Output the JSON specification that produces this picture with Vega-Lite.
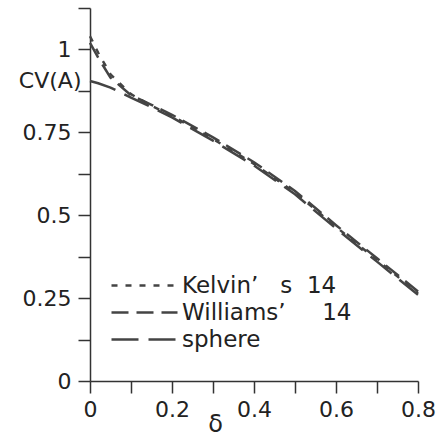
{
  "$schema": "https://vega.github.io/schema/vega-lite/v6.json",
  "width": 328,
  "height": 373,
  "autosize": {"type": "none"},
  "padding": {"left": 90, "top": 8, "right": 19, "bottom": 55},
  "background": "white",
  "config": {
    "view": {"stroke": null},
    "font": "DejaVu Sans",
    "axis": {
      "domainColor": "#333",
      "tickColor": "#333",
      "domainWidth": 1.5,
      "tickWidth": 1.5,
      "tickSize": 12,
      "grid": false,
      "labelFont": "DejaVu Sans",
      "labelFontSize": 22,
      "labelColor": "#222",
      "titleFont": "DejaVu Sans",
      "titleFontWeight": "normal",
      "titleColor": "#222"
    }
  },
  "data": {
    "values": [
      {"d": 0, "cv": 1.04, "s": "Kelvin’\u00a0\u00a0\u00a0s\u00a0\u00a014"},
      {"d": 0.02, "cv": 0.99, "s": "Kelvin’\u00a0\u00a0\u00a0s\u00a0\u00a014"},
      {"d": 0.05, "cv": 0.925, "s": "Kelvin’\u00a0\u00a0\u00a0s\u00a0\u00a014"},
      {"d": 0.1, "cv": 0.865, "s": "Kelvin’\u00a0\u00a0\u00a0s\u00a0\u00a014"},
      {"d": 0.15, "cv": 0.83, "s": "Kelvin’\u00a0\u00a0\u00a0s\u00a0\u00a014"},
      {"d": 0.2, "cv": 0.8, "s": "Kelvin’\u00a0\u00a0\u00a0s\u00a0\u00a014"},
      {"d": 0.3, "cv": 0.73, "s": "Kelvin’\u00a0\u00a0\u00a0s\u00a0\u00a014"},
      {"d": 0.4, "cv": 0.655, "s": "Kelvin’\u00a0\u00a0\u00a0s\u00a0\u00a014"},
      {"d": 0.5, "cv": 0.568, "s": "Kelvin’\u00a0\u00a0\u00a0s\u00a0\u00a014"},
      {"d": 0.6, "cv": 0.465, "s": "Kelvin’\u00a0\u00a0\u00a0s\u00a0\u00a014"},
      {"d": 0.7, "cv": 0.365, "s": "Kelvin’\u00a0\u00a0\u00a0s\u00a0\u00a014"},
      {"d": 0.8, "cv": 0.265, "s": "Kelvin’\u00a0\u00a0\u00a0s\u00a0\u00a014"},
      {"d": 0, "cv": 1.02, "s": "Williams’\u00a0\u00a0\u00a0\u00a0\u00a014"},
      {"d": 0.02, "cv": 0.975, "s": "Williams’\u00a0\u00a0\u00a0\u00a0\u00a014"},
      {"d": 0.05, "cv": 0.915, "s": "Williams’\u00a0\u00a0\u00a0\u00a0\u00a014"},
      {"d": 0.1, "cv": 0.862, "s": "Williams’\u00a0\u00a0\u00a0\u00a0\u00a014"},
      {"d": 0.15, "cv": 0.833, "s": "Williams’\u00a0\u00a0\u00a0\u00a0\u00a014"},
      {"d": 0.2, "cv": 0.803, "s": "Williams’\u00a0\u00a0\u00a0\u00a0\u00a014"},
      {"d": 0.3, "cv": 0.735, "s": "Williams’\u00a0\u00a0\u00a0\u00a0\u00a014"},
      {"d": 0.4, "cv": 0.66, "s": "Williams’\u00a0\u00a0\u00a0\u00a0\u00a014"},
      {"d": 0.5, "cv": 0.573, "s": "Williams’\u00a0\u00a0\u00a0\u00a0\u00a014"},
      {"d": 0.6, "cv": 0.47, "s": "Williams’\u00a0\u00a0\u00a0\u00a0\u00a014"},
      {"d": 0.7, "cv": 0.37, "s": "Williams’\u00a0\u00a0\u00a0\u00a0\u00a014"},
      {"d": 0.8, "cv": 0.27, "s": "Williams’\u00a0\u00a0\u00a0\u00a0\u00a014"},
      {"d": 0, "cv": 0.905, "s": "sphere"},
      {"d": 0.02, "cv": 0.898, "s": "sphere"},
      {"d": 0.05, "cv": 0.885, "s": "sphere"},
      {"d": 0.1, "cv": 0.855, "s": "sphere"},
      {"d": 0.15, "cv": 0.826, "s": "sphere"},
      {"d": 0.2, "cv": 0.795, "s": "sphere"},
      {"d": 0.3, "cv": 0.725, "s": "sphere"},
      {"d": 0.4, "cv": 0.65, "s": "sphere"},
      {"d": 0.5, "cv": 0.563, "s": "sphere"},
      {"d": 0.6, "cv": 0.46, "s": "sphere"},
      {"d": 0.7, "cv": 0.36, "s": "sphere"},
      {"d": 0.8, "cv": 0.26, "s": "sphere"}
    ]
  },
  "mark": {"type": "line", "stroke": "#444", "strokeWidth": 2.5},
  "encoding": {
    "x": {
      "field": "d", "type": "quantitative",
      "scale": {"domain": [0, 0.8], "nice": false, "zero": false},
      "axis": {
        "values": [0, 0.1, 0.2, 0.3, 0.4, 0.5, 0.6, 0.7, 0.8],
        "labelExpr": "round(datum.value*10) % 2 == 0 ? format(datum.value, '~g') : ''",
        "labelPadding": 6,
        "labelBaseline": "top",
        "labelFlush": false,
        "labelOverlap": false,
        "title": "δ",
        "titleFontSize": 24,
        "titleAnchor": "start",
        "titleAlign": "center",
        "titleX": 125,
        "titleY": 31,
        "titleBaseline": "top"
      }
    },
    "y": {
      "field": "cv", "type": "quantitative",
      "scale": {"domain": [0, 1.125], "nice": false, "zero": false},
      "axis": {
        "values": [0, 0.125, 0.25, 0.375, 0.5, 0.625, 0.75, 0.875, 1, 1.125],
        "labelExpr": "datum.value*4 == floor(datum.value*4) ? format(datum.value, '~g') : ''",
        "labelPadding": 7,
        "labelFlush": false,
        "labelOverlap": false,
        "title": "CV(A)",
        "titleFontSize": 22,
        "titleAngle": 0,
        "titleAlign": "right",
        "titleBaseline": "middle",
        "titleX": -9,
        "titleY": 72
      }
    },
    "strokeDash": {
      "field": "s", "type": "nominal",
      "scale": {
        "domain": ["Kelvin’\u00a0\u00a0\u00a0s\u00a0\u00a014", "Williams’\u00a0\u00a0\u00a0\u00a0\u00a014", "sphere"],
        "range": [[6, 8], [17, 8], [27, 10]]
      },
      "legend": {
        "title": null,
        "orient": "none",
        "legendX": 43,
        "legendY": 266,
        "symbolType": "M-3.3,0H3.3",
        "symbolStrokeColor": "#444",
        "symbolStrokeWidth": 2.5,
        "symbolSize": 400,
        "labelFont": "DejaVu Sans",
        "labelFontSize": 23,
        "labelColor": "#222",
        "labelOffset": 26,
        "labelLimit": 400,
        "rowPadding": 3
      }
    }
  }
}
